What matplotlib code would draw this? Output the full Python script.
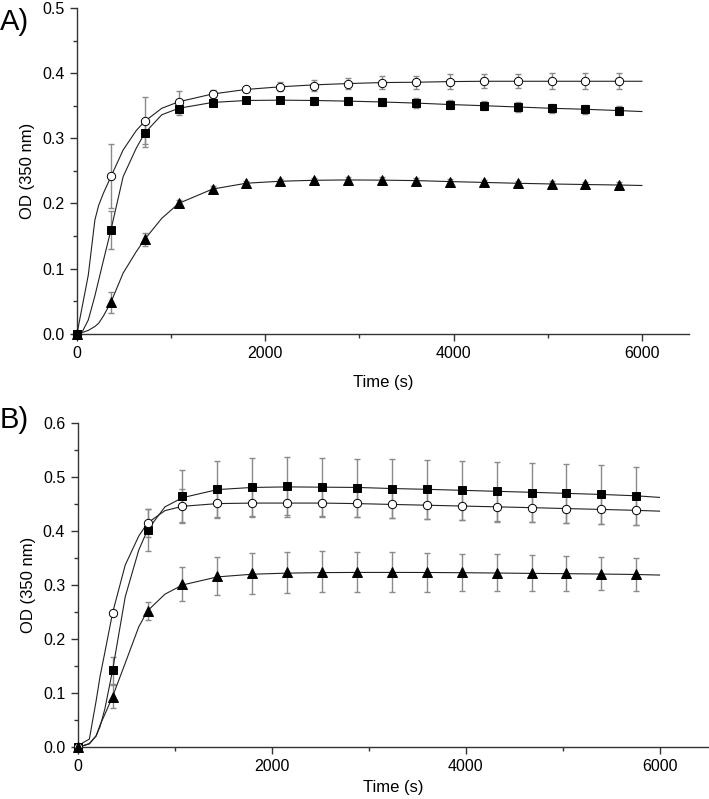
import matplotlib
matplotlib.use("Agg")
import matplotlib.pyplot as plt
from matplotlib.ticker import MultipleLocator

plt.rcParams['font.family'] = ['Liberation Sans', 'DejaVu Sans']

# ---------------- data ----------------
t_data = [0, 360, 720, 1080, 1440, 1800, 2160, 2520, 2880, 3240, 3600, 3960, 4320, 4680, 5040, 5400, 5760]

# Panel A
a_circle = [0, 0.242, 0.327, 0.356, 0.368, 0.375, 0.379, 0.381, 0.384, 0.385, 0.386, 0.387, 0.3875, 0.3875, 0.3875, 0.3875, 0.3875]
a_circle_err = [0, 0.049, 0.036, 0.017, 0.006, 0.004, 0.007, 0.009, 0.009, 0.010, 0.010, 0.011, 0.011, 0.011, 0.012, 0.012, 0.012]
a_square = [0, 0.159, 0.308, 0.345, 0.3546, 0.359, 0.359, 0.3578, 0.3572, 0.3557, 0.3542, 0.3516, 0.350, 0.348, 0.346, 0.3445, 0.3423]
a_square_err = [0, 0.029, 0.021, 0.010, 0.005, 0.005, 0.005, 0.006, 0.006, 0.006, 0.007, 0.007, 0.007, 0.007, 0.007, 0.007, 0.007]
a_tri = [0, 0.048, 0.145, 0.200, 0.222, 0.231, 0.234, 0.2355, 0.236, 0.236, 0.2349, 0.2333, 0.2324, 0.2309, 0.2298, 0.2293, 0.2283]
a_tri_err = [0, 0.016, 0.010, 0.005, 0.004, 0.004, 0.004, 0.004, 0.004, 0.004, 0.004, 0.004, 0.004, 0.004, 0.004, 0.004, 0.004]

# Panel B
b_square = [0, 0.142, 0.402, 0.465, 0.478, 0.482, 0.483, 0.482, 0.480, 0.4785, 0.4772, 0.4754, 0.4735, 0.4716, 0.4698, 0.468, 0.4654]
b_square_err = [0, 0.025, 0.039, 0.048, 0.052, 0.054, 0.054, 0.054, 0.054, 0.055, 0.055, 0.055, 0.055, 0.055, 0.055, 0.054, 0.054]
b_circle = [0, 0.2485, 0.415, 0.447, 0.452, 0.453, 0.452, 0.452, 0.4513, 0.4495, 0.4477, 0.4464, 0.4446, 0.4434, 0.4415, 0.4403, 0.4384]
b_circle_err = [0, 0.0, 0.026, 0.032, 0.027, 0.026, 0.026, 0.026, 0.026, 0.026, 0.026, 0.026, 0.027, 0.027, 0.027, 0.027, 0.027]
b_tri = [0, 0.093, 0.252, 0.3017, 0.3165, 0.3215, 0.3233, 0.3245, 0.3245, 0.3233, 0.3233, 0.3233, 0.3227, 0.3221, 0.3215, 0.321, 0.3197]
b_tri_err = [0, 0.022, 0.017, 0.032, 0.036, 0.038, 0.038, 0.038, 0.037, 0.037, 0.036, 0.035, 0.034, 0.033, 0.032, 0.031, 0.030]

# fitted curves
t_fit = [0, 60, 120, 190, 230, 280, 360, 490, 630, 720, 900, 1080, 1440, 1800, 2160, 2520, 2880, 3240, 3600, 3960, 4320, 4680, 5040, 5400, 5760, 6000]
a_circle_fit = [0, 0.045, 0.090, 0.1745, 0.197, 0.2155, 0.241, 0.282, 0.312, 0.326, 0.346, 0.356, 0.368, 0.375, 0.379, 0.382, 0.384, 0.3855, 0.386, 0.387, 0.3875, 0.3875, 0.3875, 0.3875, 0.3875, 0.3875]
a_square_fit = [0, 0.004, 0.021, 0.058, 0.082, 0.112, 0.159, 0.241, 0.285, 0.308, 0.336, 0.346, 0.355, 0.358, 0.3585, 0.358, 0.357, 0.3557, 0.354, 0.3518, 0.350, 0.348, 0.346, 0.3445, 0.3425, 0.341]
a_tri_fit = [0, 0.002, 0.005, 0.011, 0.016, 0.027, 0.048, 0.093, 0.126, 0.145, 0.177, 0.200, 0.222, 0.231, 0.234, 0.2355, 0.236, 0.2357, 0.235, 0.2335, 0.2322, 0.2309, 0.2298, 0.2290, 0.2282, 0.2275]

b_circle_fit = [0, 0.008, 0.014, 0.085, 0.130, 0.175, 0.2485, 0.337, 0.391, 0.415, 0.438, 0.446, 0.451, 0.452, 0.452, 0.452, 0.451, 0.4495, 0.448, 0.4465, 0.445, 0.4435, 0.4418, 0.4402, 0.4385, 0.437]
b_square_fit = [0, 0.002, 0.006, 0.020, 0.037, 0.070, 0.142, 0.278, 0.365, 0.402, 0.445, 0.462, 0.477, 0.481, 0.482, 0.4815, 0.481, 0.479, 0.4775, 0.4757, 0.4738, 0.472, 0.470, 0.468, 0.4655, 0.4625]
b_tri_fit = [0, 0.002, 0.005, 0.020, 0.040, 0.060, 0.093, 0.155, 0.2225, 0.252, 0.283, 0.300, 0.315, 0.320, 0.322, 0.323, 0.3233, 0.3233, 0.3232, 0.3228, 0.3222, 0.3215, 0.321, 0.3203, 0.3195, 0.3184]

# ---------------- figure ----------------
fig = plt.figure(figsize=(7.09, 7.99), dpi=100)
axA = fig.add_axes([0.1086, 0.5824, 0.8632, 0.4076])
axB = fig.add_axes([0.1096, 0.0655, 0.889, 0.4047])

ERR_COLOR = '#8a8a8a'
LINE_COLOR = '#222222'


def draw(ax, series, fits):
    for y, err, marker, face, size in series:
        ax.errorbar(t_data, y, yerr=err, fmt='none', ecolor=ERR_COLOR, elinewidth=1.0,
                    capsize=2.5, capthick=1.0, zorder=2)
    for yf in fits:
        ax.plot(t_fit, yf, color=LINE_COLOR, lw=0.8, zorder=3)
    for y, err, marker, face, size in series:
        ax.plot(t_data, y, linestyle='none', marker=marker, markersize=size,
                markerfacecolor=face, markeredgecolor='black', markeredgewidth=0.7,
                zorder=4, clip_on=False)


draw(axA,
     [(a_circle, a_circle_err, 'o', 'white', 6),
      (a_square, a_square_err, 's', 'black', 5.6),
      (a_tri, a_tri_err, '^', 'black', 6.6)],
     [a_circle_fit, a_square_fit, a_tri_fit])

draw(axB,
     [(b_square, b_square_err, 's', 'black', 5.6),
      (b_circle, b_circle_err, 'o', 'white', 6),
      (b_tri, b_tri_err, '^', 'black', 6.6)],
     [b_circle_fit, b_square_fit, b_tri_fit])

for ax, ytop, xpad in ((axA, 0.5, 10), (axB, 0.6, 4)):
    ax.set_xlim(0, 6500)
    ax.set_ylim(0, ytop)
    ax.xaxis.set_major_locator(MultipleLocator(2000))
    ax.xaxis.set_minor_locator(MultipleLocator(1000))
    ax.yaxis.set_major_locator(MultipleLocator(0.1))
    ax.yaxis.set_minor_locator(MultipleLocator(0.05))
    ax.yaxis.set_major_formatter(plt.FuncFormatter(lambda v, p: f"{v:.1f}"))
    for s in ('top', 'right'):
        ax.spines[s].set_visible(False)
    for s in ('left', 'bottom'):
        ax.spines[s].set_color('#333333')
        ax.spines[s].set_linewidth(1.0)
    ax.tick_params(which='major', direction='out', length=5, width=1.0, color='#333333',
                   labelsize=11.5, pad=4)
    ax.tick_params(which='minor', direction='out', length=3, width=1.0, color='#333333')
    ax.set_xlabel('Time (s)', fontsize=12, labelpad=xpad)
    ax.set_ylabel('OD (350 nm)', fontsize=12, labelpad=5)

fig.text(0.0, 0.973, 'A)', fontsize=21, ha='left', va='center')
fig.text(0.0, 0.474, 'B)', fontsize=21, ha='left', va='center')

fig.savefig('out.png', dpi=100)
